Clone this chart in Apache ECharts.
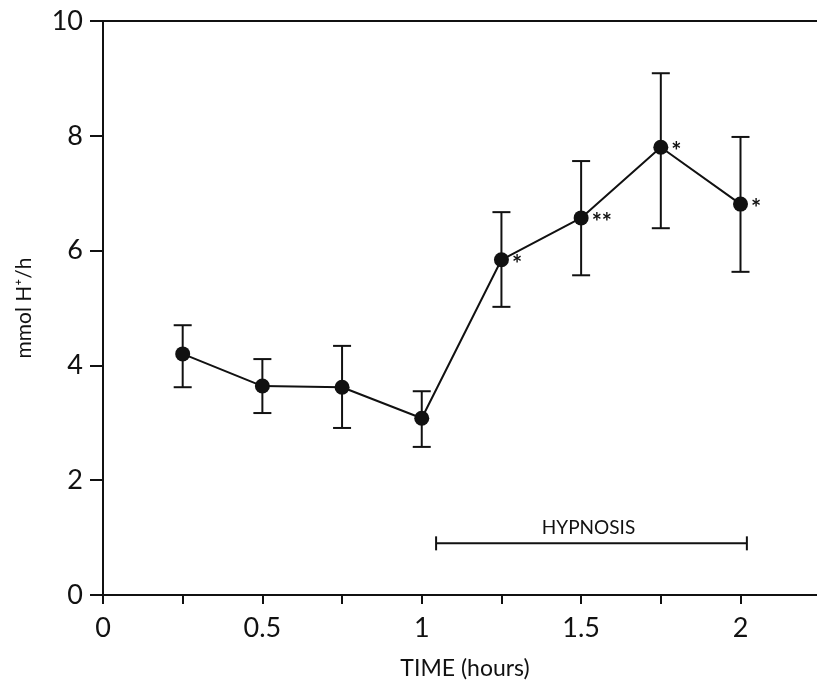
<!DOCTYPE html>
<html>
<head>
<meta charset="utf-8">
<script src="https://cdn.jsdelivr.net/npm/echarts@6/dist/echarts.min.js"></script>
<style>
  html, body { margin: 0; padding: 0; background: #fff; }
  #chart { width: 817px; height: 685px; }
</style>
</head>
<body>
<div id="chart"></div>
<script>
var times = [0.25, 0.5, 0.75, 1.0, 1.25, 1.5, 1.75, 2.0];
var means = [4.2, 3.64, 3.62, 3.08, 5.84, 6.57, 7.8, 6.81];
var upper = [4.7, 4.11, 4.34, 3.55, 6.67, 7.56, 9.09, 7.98];
var lower = [3.62, 3.17, 2.91, 2.58, 5.02, 5.57, 6.39, 5.63];
var marks = ["", "", "", "", "*", "**", "*", "*"];
var hypnosisRange = [1.045, 2.02];
var hypnosisY = 0.9;
var xTicks = [0, 0.5, 1, 1.5, 2];

var fontFamily = "Lato, 'DejaVu Sans', sans-serif";

var chartDom = document.getElementById("chart");
var myChart = echarts.init(chartDom);
var option;

var lineData = times.map(function (t, i) { return [t, means[i]]; });
var errData = times.map(function (t, i) { return [t, lower[i], upper[i]]; });

option = {
  animation: false,
  grid: { left: 103, right: 0, top: 21, bottom: 90 },
  xAxis: [
    {
      type: "value",
      min: 0,
      max: 2.24,
      interval: 0.25,
      splitLine: { show: false },
      axisLine: { onZero: false, lineStyle: { color: "#111", width: 2 } },
      axisTick: { length: 9, lineStyle: { color: "#111", width: 2 } },
      axisLabel: {
        color: "#111",
        fontSize: 27,
        fontFamily: fontFamily,
        margin: 20,
        showMaxLabel: false,
        formatter: function (v) {
          for (var k = 0; k < xTicks.length; k++) {
            if (Math.abs(xTicks[k] - v) < 1e-6) return String(xTicks[k]);
          }
          return "";
        }
      },
      name: "TIME (hours)",
      nameLocation: "middle",
      nameGap: 62,
      nameTextStyle: { color: "#111", fontSize: 23, fontFamily: fontFamily, padding: [0, 0, 0, 10] }
    },
    {
      type: "value",
      position: "top",
      min: 0,
      max: 2.24,
      axisLine: { show: true, onZero: false, lineStyle: { color: "#111", width: 2 } },
      axisTick: { show: false },
      axisLabel: { show: false },
      splitLine: { show: false }
    }
  ],
  yAxis: {
    type: "value",
    min: 0,
    max: 10,
    interval: 2,
    splitLine: { show: false },
    axisLine: { show: true, lineStyle: { color: "#111", width: 2 } },
    axisTick: { show: true, length: 13, lineStyle: { color: "#111", width: 2 } },
    axisLabel: { color: "#111", fontSize: 27, fontFamily: fontFamily, margin: 20 },
    name: "mmol H\u207A/h",
    nameLocation: "middle",
    nameGap: 68,
    nameTextStyle: { color: "#111", fontSize: 21, fontFamily: fontFamily }
  },
  series: [
    {
      type: "custom",
      renderItem: function (params, api) {
        var x = api.value(0);
        var lo = api.coord([x, api.value(1)]);
        var hi = api.coord([x, api.value(2)]);
        var cap = 9;
        var st = { stroke: "#111", lineWidth: 2 };
        return {
          type: "group",
          children: [
            { type: "line", shape: { x1: lo[0], y1: lo[1], x2: hi[0], y2: hi[1] }, style: st },
            { type: "line", shape: { x1: hi[0] - cap, y1: hi[1], x2: hi[0] + cap, y2: hi[1] }, style: st },
            { type: "line", shape: { x1: lo[0] - cap, y1: lo[1], x2: lo[0] + cap, y2: lo[1] }, style: st }
          ]
        };
      },
      encode: { x: 0, y: [1, 2] },
      data: errData,
      z: 2
    },
    {
      type: "line",
      data: lineData,
      symbol: "circle",
      symbolSize: 15,
      lineStyle: { color: "#111", width: 2 },
      itemStyle: { color: "#111" },
      label: {
        show: true,
        position: "right",
        distance: 3,
        offset: [0, 5],
        color: "#111",
        fontSize: 24,
        fontWeight: "bold",
        fontFamily: fontFamily,
        formatter: function (p) { return marks[p.dataIndex]; }
      },
      z: 3
    },
    {
      type: "custom",
      renderItem: function (params, api) {
        var a = api.coord([hypnosisRange[0], hypnosisY]);
        var b = api.coord([hypnosisRange[1], hypnosisY]);
        var st = { stroke: "#111", lineWidth: 2 };
        return {
          type: "group",
          children: [
            { type: "line", shape: { x1: a[0], y1: a[1], x2: b[0], y2: b[1] }, style: st },
            { type: "line", shape: { x1: a[0], y1: a[1] - 7, x2: a[0], y2: a[1] + 7 }, style: st },
            { type: "line", shape: { x1: b[0], y1: b[1] - 7, x2: b[0], y2: b[1] + 7 }, style: st },
            {
              type: "text",
              style: {
                x: (a[0] + b[0]) / 2 - 3,
                y: a[1] - 6,
                text: "HYPNOSIS",
                fill: "#111",
                font: "19px " + fontFamily,
                align: "center",
                verticalAlign: "bottom"
              }
            }
          ]
        };
      },
      data: [[hypnosisRange[0], hypnosisY]],
      z: 2
    }
  ]
};

option && myChart.setOption(option);
</script>
</body>
</html>
